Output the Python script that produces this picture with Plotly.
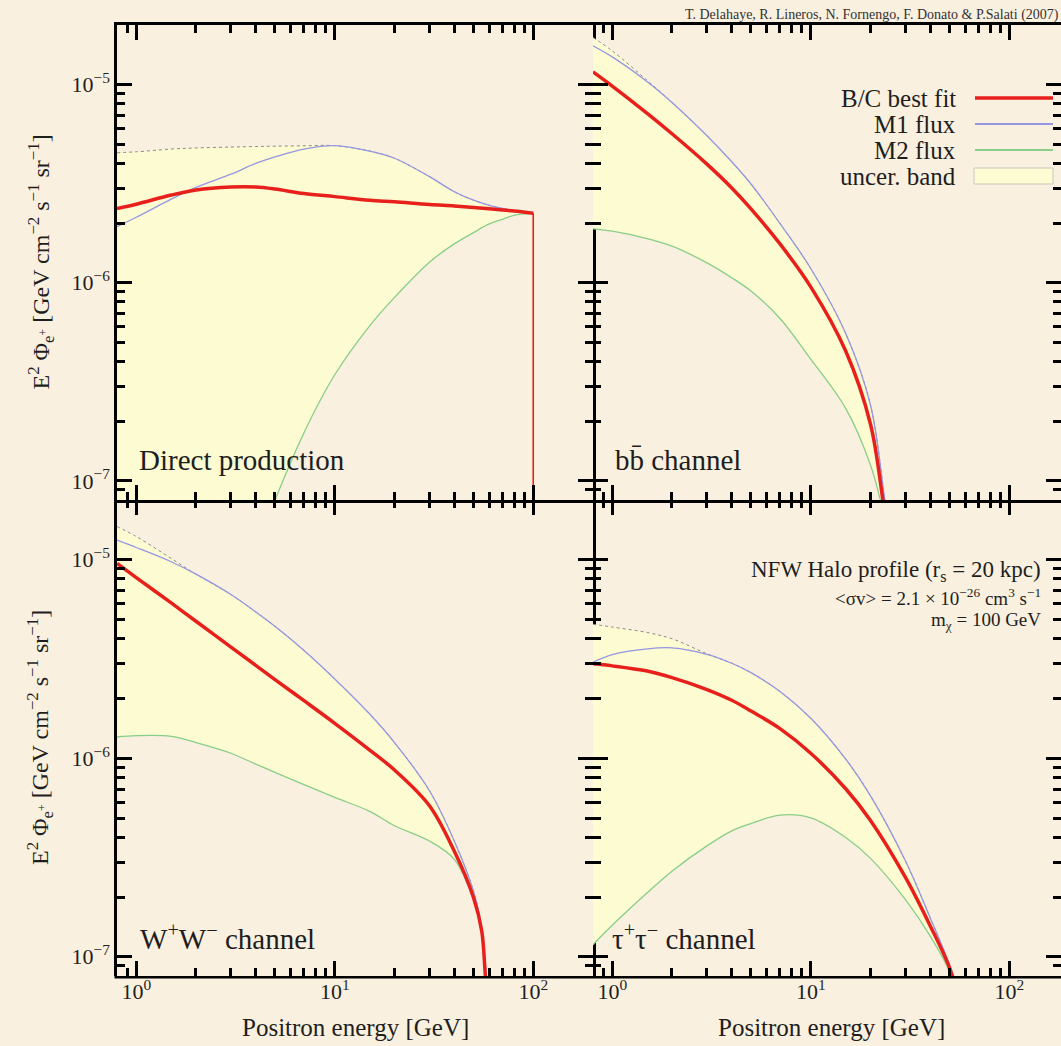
import math
import plotly.graph_objects as go

# ---------------------------------------------------------------------------
# Positron flux E^2 * Phi (GeV cm^-2 s^-1 sr^-1) versus positron energy (GeV)
# for a 100 GeV WIMP in an NFW halo, four annihilation channels.
# ---------------------------------------------------------------------------

# Direct production
direct_E = [0.8, 1, 1.5, 2, 3, 4, 5, 7, 10, 15, 20, 30, 40, 50, 60, 70, 80, 100]
direct_fit = [2.37e-6, 2.49e-6, 2.77e-6, 2.94e-6, 3.04e-6, 3.04e-6, 2.97e-6, 2.82e-6, 2.72e-6,
              2.61e-6, 2.56e-6, 2.48e-6, 2.44e-6, 2.40e-6, 2.36e-6, 2.33e-6, 2.30e-6, 2.24e-6]
direct_m1 = [1.92e-6, 2.14e-6, 2.64e-6, 3.03e-6, 3.53e-6, 4.00e-6, 4.32e-6, 4.73e-6, 4.92e-6,
             4.62e-6, 4.25e-6, 3.43e-6, 2.88e-6, 2.61e-6, 2.46e-6, 2.37e-6, 2.31e-6, 2.24e-6]
direct_hi = [4.53e-6, 4.58e-6, 4.73e-6, 4.79e-6, 4.84e-6, 4.87e-6, 4.89e-6, 4.91e-6, 4.92e-6,
             4.62e-6, 4.25e-6, 3.43e-6, 2.88e-6, 2.61e-6, 2.46e-6, 2.37e-6, 2.31e-6, 2.24e-6]
direct_m2_E = [0.8, 1, 2, 3, 4, 5, 7, 10, 15, 20, 30, 40, 50, 60, 70, 80, 100]
direct_m2 = [1.9e-10, 4.5e-10, 5.4e-9, 1.95e-8, 4.5e-8, 8.0e-8, 1.75e-7, 3.43e-7, 6.06e-7,
             8.43e-7, 1.27e-6, 1.57e-6, 1.79e-6, 1.98e-6, 2.09e-6, 2.19e-6, 2.24e-6]

# b bbar channel
bb_fit_E = [0.8, 1, 1.5, 2, 3, 4, 5, 7, 10, 15, 20, 23.1, 26]
bb_fit = [1.16e-5, 9.84e-6, 7.16e-6, 5.65e-6, 3.97e-6, 3.01e-6, 2.36e-6, 1.57e-6, 9.53e-7,
          4.52e-7, 1.93e-7, 8.0e-8, 3.5e-8]
bb_m1_E = [0.8, 1, 1.5, 2, 3, 4, 5, 7, 10, 15, 20, 23.6, 26]
bb_m1 = [1.57e-5, 1.38e-5, 1.035e-5, 8.13e-6, 5.52e-6, 4.08e-6, 3.15e-6, 1.99e-6, 1.18e-6,
         5.54e-7, 2.41e-7, 8.0e-8, 4.0e-8]
bb_hi = [1.73e-5, 1.48e-5, 1.05e-5, 8.13e-6, 5.52e-6, 4.08e-6, 3.15e-6, 1.99e-6, 1.18e-6,
         5.54e-7, 2.41e-7, 8.0e-8, 4.0e-8]
bb_m2_E = [0.8, 1, 1.5, 2, 3, 4, 5, 7, 10, 15, 20, 22.4, 25]
bb_m2 = [1.87e-6, 1.82e-6, 1.67e-6, 1.53e-6, 1.26e-6, 1.06e-6, 9.08e-7, 6.60e-7, 4.11e-7,
         2.32e-7, 1.20e-7, 8.0e-8, 4.5e-8]

# W+ W- channel
ww_fit_E = [0.8, 1, 1.5, 2, 3, 4, 5, 7, 10, 15, 20, 30, 40, 50, 55, 57.4, 62]
ww_fit = [9.58e-6, 8.13e-6, 6.06e-6, 4.90e-6, 3.63e-6, 2.94e-6, 2.49e-6, 1.95e-6, 1.50e-6,
          1.10e-6, 8.73e-7, 5.77e-7, 3.41e-7, 1.99e-7, 1.35e-7, 8.0e-8, 3e-8]
ww_m1_E = [0.8, 1, 1.5, 2, 3, 4, 5, 7, 10, 15, 20, 30, 40, 50, 55, 58, 62]
ww_m1 = [1.256e-5, 1.153e-5, 9.77e-6, 8.46e-6, 6.68e-6, 5.46e-6, 4.62e-6, 3.49e-6, 2.51e-6,
         1.67e-6, 1.20e-6, 6.86e-7, 3.83e-7, 2.14e-7, 1.40e-7, 8.0e-8, 3e-8]
ww_hi = [1.47e-5, 1.31e-5, 1.015e-5, 8.46e-6, 6.68e-6, 5.46e-6, 4.62e-6, 3.49e-6, 2.51e-6,
         1.67e-6, 1.20e-6, 6.86e-7, 3.83e-7, 2.14e-7, 1.40e-7, 8.0e-8, 3e-8]
ww_m2_E = [0.8, 1, 1.5, 2, 3, 4, 5, 7, 10, 15, 20, 30, 40, 50, 55, 57.2, 62]
ww_m2 = [1.28e-6, 1.30e-6, 1.29e-6, 1.20e-6, 1.06e-6, 9.35e-7, 8.49e-7, 7.36e-7, 6.35e-7,
         5.40e-7, 4.57e-7, 3.83e-7, 3.10e-7, 1.94e-7, 1.32e-7, 8.0e-8, 3e-8]

# tau+ tau- channel
tau_E = [0.8, 1, 1.5, 2, 3, 4, 5, 7, 10, 15, 20, 30, 40, 50, 56]
tau_fit = [2.99e-6, 2.92e-6, 2.75e-6, 2.55e-6, 2.22e-6, 1.96e-6, 1.73e-6, 1.41e-6, 1.06e-6,
           7.02e-7, 4.86e-7, 2.51e-7, 1.43e-7, 8.8e-8, 6.0e-8]
tau_m1 = [3.05e-6, 3.33e-6, 3.56e-6, 3.60e-6, 3.34e-6, 3.01e-6, 2.70e-6, 2.17e-6, 1.59e-6,
          9.91e-7, 6.47e-7, 3.04e-7, 1.57e-7, 9.14e-8, 6.5e-8]
tau_hi = [4.73e-6, 4.58e-6, 4.30e-6, 4.00e-6, 3.36e-6, 3.01e-6, 2.70e-6, 2.17e-6, 1.59e-6,
          9.91e-7, 6.47e-7, 3.04e-7, 1.57e-7, 9.14e-8, 6.5e-8]
tau_m2 = [1.15e-7, 1.44e-7, 2.10e-7, 2.70e-7, 3.62e-7, 4.31e-7, 4.69e-7, 5.17e-7, 5.01e-7,
          3.99e-7, 3.13e-7, 1.94e-7, 1.27e-7, 8.4e-8, 5.5e-8]

# Axis ticks
x_major = [1, 10, 100]
x_major_text = ["10<sup>0</sup>", "10<sup>1</sup>", "10<sup>2</sup>"]
x_minor = [0.9] + [d * m for m in (1, 10) for d in range(2, 10)]
y_major = [1e-7, 1e-6, 1e-5]
y_major_text = ["10<sup>\u22127</sup>", "10<sup>\u22126</sup>", "10<sup>\u22125</sup>"]
y_minor = [9e-8] + [d * m for m in (1e-7, 1e-6) for d in range(2, 10)]

E_MIN, E_MAX = 0.8, 200.0
F_MIN, F_MAX = 8e-8, 2e-5

# Styling
SERIF = "Liberation Serif, Times New Roman, serif"
BG = "#FAF0DF"
BAND = "#FCFBD2"
RED = "#E8201C"
BLUE = "#9696E2"
GREEN = "#88CE88"
DOTS = "#8A8A8A"
INK = "#1E1E1E"

W, H = 1061, 1046
LEFT, MID, RIGHT = 117, 593, 1061          # frame columns (px)
TOP, HMID, BOTTOM = 25, 500, 976           # frame rows (px)
DEC_PX = (MID - LEFT) / (math.log10(E_MAX) - math.log10(E_MIN))


def fx(px):
    return px / W


def fy(py):
    return 1 - py / H


x_left_range = [math.log10(E_MIN), math.log10(E_MAX)]
x_right_range = [math.log10(E_MIN), math.log10(E_MIN) + (RIGHT - MID) / DEC_PX]
y_range = [math.log10(F_MIN), math.log10(F_MAX)]

panels = [
    dict(ax="", fit_E=direct_E, fit=direct_fit, m1_E=direct_E, m1=direct_m1,
         hi=direct_hi, m2_E=direct_m2_E, m2=direct_m2,
         label="Direct production", lx=137, ly=460),
    dict(ax="2", fit_E=bb_fit_E, fit=bb_fit, m1_E=bb_m1_E, m1=bb_m1,
         hi=bb_hi, m2_E=bb_m2_E, m2=bb_m2,
         label="bb\u0304 channel", lx=613, ly=460),
    dict(ax="3", fit_E=ww_fit_E, fit=ww_fit, m1_E=ww_m1_E, m1=ww_m1,
         hi=ww_hi, m2_E=ww_m2_E, m2=ww_m2,
         label="W<sup>+</sup>W<sup>\u2212</sup> channel", lx=138, ly=937),
    dict(ax="4", fit_E=tau_E, fit=tau_fit, m1_E=tau_E, m1=tau_m1,
         hi=tau_hi, m2_E=tau_E, m2=tau_m2,
         label="\u03c4<sup>+</sup>\u03c4<sup>\u2212</sup> channel", lx=610, ly=937),
]

fig = go.Figure()

for p in panels:
    xa, ya = "x" + p["ax"], "y" + p["ax"]
    common = dict(xaxis=xa, yaxis=ya, mode="lines", showlegend=False, hoverinfo="skip")
    # lower edge of the uncertainty band (runs along M2)
    fig.add_trace(go.Scatter(x=p["m2_E"], y=p["m2"], line=dict(width=0, shape="spline"), **common))
    # upper edge of the band, filled down to the lower edge
    fig.add_trace(go.Scatter(x=p["m1_E"], y=p["hi"], fill="tonexty", fillcolor=BAND,
                             line=dict(color=DOTS, width=1, dash="dot", shape="spline"), **common))
    fig.add_trace(go.Scatter(x=p["m2_E"], y=p["m2"],
                             line=dict(color=GREEN, width=1.3, shape="spline"), **common))
    fig.add_trace(go.Scatter(x=p["m1_E"], y=p["m1"],
                             line=dict(color=BLUE, width=1.3, shape="spline"), **common))
    fig.add_trace(go.Scatter(x=p["fit_E"], y=p["fit"],
                             line=dict(color=RED, width=3.5, shape="spline"), **common))

# the direct-production line ends in a sharp edge at the WIMP mass
fig.add_trace(go.Scatter(x=[direct_E[-1], direct_E[-1]], y=[direct_fit[-1], 1e-9],
                         xaxis="x", yaxis="y", mode="lines", showlegend=False,
                         hoverinfo="skip", line=dict(color=RED, width=1.6)))

tickfont = dict(family=SERIF, size=22, color=INK)


def xaxis_cfg(col, row, labels):
    dom = [fx(LEFT), fx(MID)] if col == 0 else [fx(MID), 1.0]
    return dict(
        type="log", domain=dom, range=x_left_range if col == 0 else x_right_range,
        tickmode="array", tickvals=x_major, ticktext=x_major_text, showticklabels=labels,
        ticks="inside", ticklen=15, tickwidth=2.5, tickcolor="black",
        showline=(row == 0), linecolor="black", linewidth=2.5, mirror="ticks",
        showgrid=False, zeroline=False, tickfont=tickfont, fixedrange=True,
        minor=dict(tickmode="array", tickvals=x_minor, ticks="inside", ticklen=8,
                   tickwidth=2.5, tickcolor="black", showgrid=False),
    )


def yaxis_cfg(col, row):
    dom = [fy(HMID), fy(TOP)] if row == 0 else [fy(BOTTOM), fy(HMID)]
    return dict(
        type="log", domain=dom, range=y_range,
        tickmode="array", tickvals=y_major, ticktext=y_major_text, showticklabels=(col == 0),
        ticks="inside", ticklen=15, tickwidth=2.5, tickcolor="black",
        showline=(col == 0), linecolor="black", linewidth=2.5, mirror="ticks",
        showgrid=False, zeroline=False, tickfont=tickfont, fixedrange=True,
        minor=dict(tickmode="array", tickvals=y_minor, ticks="inside", ticklen=8,
                   tickwidth=2.5, tickcolor="black", showgrid=False),
    )


layout_axes = {}
for i, (col, row) in enumerate([(0, 0), (1, 0), (0, 1), (1, 1)]):
    sfx = "" if i == 0 else str(i + 1)
    xa = xaxis_cfg(col, row, labels=(row == 1))
    ya = yaxis_cfg(col, row)
    xa["anchor"] = "y" + sfx
    ya["anchor"] = "x" + sfx
    layout_axes["xaxis" + sfx] = xa
    layout_axes["yaxis" + sfx] = ya

annotations = []
shapes = []

# bottom frame line of the lower row
shapes.append(dict(type="line", xref="paper", yref="paper", x0=fx(LEFT - 2.5), x1=1.0,
                   y0=fy(BOTTOM + 1.25), y1=fy(BOTTOM + 1.25),
                   line=dict(color="black", width=2.5)))

# panel labels
for p in panels:
    annotations.append(dict(text=p["label"], x=fx(p["lx"]), y=fy(p["ly"]), xref="paper",
                            yref="paper", xanchor="left", yanchor="middle", showarrow=False,
                            font=dict(family=SERIF, size=29, color=INK)))

# axis titles
ytitle = ("E<sup>2</sup> \u03a6<sub>e<sup>+</sup></sub> [GeV cm<sup>\u22122</sup> "
          "s<sup>\u22121</sup> sr<sup>\u22121</sup>]")
for yc in ((TOP + HMID) / 2, (HMID + BOTTOM) / 2):
    annotations.append(dict(text=ytitle, x=fx(40), y=fy(yc), xref="paper", yref="paper",
                            textangle=-90, xanchor="center", yanchor="middle",
                            showarrow=False, font=dict(family=SERIF, size=24, color=INK)))
for xc in ((LEFT + MID) / 2, MID + (MID - LEFT) / 2):
    annotations.append(dict(text="Positron energy [GeV]", x=fx(xc), y=fy(1027), xref="paper",
                            yref="paper", xanchor="center", yanchor="middle",
                            showarrow=False, font=dict(family=SERIF, size=25, color=INK)))

# credit line
annotations.append(dict(text="T. Delahaye, R. Lineros, N. Fornengo, F. Donato &amp; P.Salati (2007)",
                        x=fx(683), y=fy(15), xref="paper", yref="paper", xanchor="left",
                        yanchor="middle", showarrow=False,
                        font=dict(family=SERIF, size=14, color="#333333")))

# halo / particle parameters
params = [
    ("NFW Halo profile (r<sub>s</sub> = 20 kpc)", 571, 23),
    ("&lt;\u03c3v&gt; = 2.1 \u00d7 10<sup>\u221226</sup> cm<sup>3</sup> s<sup>\u22121</sup>", 597, 19),
    ("m<sub>\u03c7</sub> = 100 GeV", 621, 19),
]
for txt, yy, size in params:
    annotations.append(dict(text=txt, x=fx(1043), y=fy(yy), xref="paper", yref="paper",
                            xanchor="right", yanchor="middle", showarrow=False,
                            font=dict(family=SERIF, size=size, color=INK)))

# key (text right-aligned, sample to its right)
key = [("B/C best fit", 98, RED, 3.5), ("M1 flux", 124, BLUE, 2),
       ("M2 flux", 150, GREEN, 2), ("uncer. band", 176, None, 0)]
for txt, yy, colr, lw in key:
    annotations.append(dict(text=txt, x=fx(958), y=fy(yy), xref="paper", yref="paper",
                            xanchor="right", yanchor="middle", showarrow=False,
                            font=dict(family=SERIF, size=25, color=INK)))
    if colr:
        shapes.append(dict(type="line", xref="paper", yref="paper", x0=fx(975), x1=fx(1053),
                           y0=fy(yy), y1=fy(yy), line=dict(color=colr, width=lw)))
    else:
        shapes.append(dict(type="rect", xref="paper", yref="paper", x0=fx(974), x1=fx(1053),
                           y0=fy(yy + 8), y1=fy(yy - 8), fillcolor=BAND,
                           line=dict(color="#C8C8C0", width=1)))

fig.update_layout(
    width=W, height=H, margin=dict(l=0, r=0, t=0, b=0),
    paper_bgcolor=BG, plot_bgcolor=BG,
    showlegend=False, annotations=annotations, shapes=shapes,
    font=dict(family=SERIF, color=INK),
    **layout_axes,
)

fig.write_html("out.html", config={"displayModeBar": False},
               post_script="document.body.style.margin='0';")
